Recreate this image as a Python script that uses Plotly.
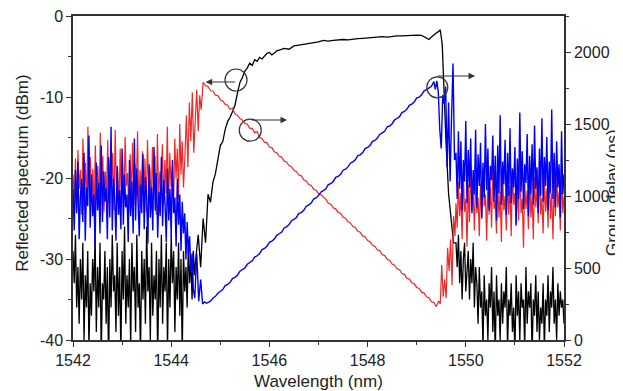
import numpy as np
import plotly.graph_objects as go

# ---------------- data ----------------
# Reflected spectrum (dBm), left axis
black_left = [-29,-33,-27,-36,-31,-38,-30,-35,-28,-40,-32,-36,-29,-41,-33,-37,-30,-34,-27,-39,
              -31,-36,-28,-42,-33,-35,-29,-38,-31,-43,-30,-36,-27,-34,-32,-39,-28,-37,-31,-42,
              -29,-35,-26,-38,-32,-36,-30,-41,-28,-34,-31,-39,-27,-36,-33,-42,-29,-35,-30,-38,
              -26,-34,-31,-40,-28,-37,-32,-35,-29,-43,-30,-36,-27,-38,-31,-34,-28,-41,-30,-36,
              -27,-33,-29,-39,-31,-35,-28,-37,-30,-42,-29,-34,-31,-36,-28,-33,-30,-35,-29,-32]
black_left_range = (1542.0, 1544.475)

black_mid_wl = [1544.5,1544.55,1544.6,1544.65,1544.7,1544.75,1544.8,1544.85,1544.9,1544.95,1545.0,1545.05,
                1545.1,1545.15,1545.2,1545.25,1545.3,1545.35,1545.4,1545.45,1545.5,1545.55,1545.6,1545.65,
                1545.7,1545.75,1545.8,1545.85,1545.9,1545.95,1546.0,1546.05,1546.1,1546.15,1546.2,1546.3,
                1546.4,1546.5,1546.6,1546.7,1546.8,1546.9,1547.0,1547.1,1547.2,1547.3,1547.4,1547.5,
                1547.6,1547.7,1547.8,1547.9,1548.0,1548.1,1548.2,1548.3,1548.4,1548.5,1548.6,1548.7,
                1548.8,1548.9,1549.0,1549.1,1549.15,1549.2,1549.25,1549.3,1549.35,1549.4,1549.45,1549.48,
                1549.52,1549.56,1549.6,1549.65,1549.7,1549.75]
black_mid = [-30,-27,-31,-25,-28,-22,-23,-20.5,-19.5,-17.5,-16,-15.5,
             -14,-13,-12.5,-11.8,-11,-9.5,-8.2,-7.6,-6.8,-6.4,-5.8,-6.1,
             -5.4,-5.6,-5.1,-5.3,-4.9,-4.6,-4.5,-4.8,-4.6,-4.3,-4.2,-4.0,
             -4.1,-3.7,-3.6,-3.5,-3.4,-3.3,-3.2,-3.0,-3.1,-3.0,-2.95,-2.9,
             -2.95,-2.85,-2.8,-2.75,-2.7,-2.7,-2.6,-2.55,-2.6,-2.5,-2.45,-2.45,
             -2.4,-2.4,-2.35,-2.4,-2.6,-2.7,-2.9,-2.6,-2.3,-2.1,-1.9,-1.7,
             -3.5,-10,-16,-22,-25,-28]

black_right = [-28,-31,-27,-33,-29,-35,-30,-28,-34,-31,-29,-35,-30,-33,-28,-36,-31,-33,-38,-31,
               -36,-34,-41,-32,-37,-35,-40,-33,-36,-31,-39,-34,-42,-32,-37,-35,-40,-33,-38,-34,
               -36,-31,-41,-35,-37,-33,-39,-36,-42,-32,-37,-34,-40,-33,-36,-35,-41,-31,-38,-34,
               -36,-33,-42,-35,-37,-32,-39,-34,-40,-36,-38,-33,-41,-35,-37,-32,-39,-34,-36,-31,
               -38,-35,-40,-33,-37,-34,-36,-35,-38]
black_right_range = (1549.8, 1552.0)

# Group delay (ps), right axis - red
red_left = [1150,980,1260,900,1320,1050,1180,870,1400,1010,1230,940,1480,1090,1270,960,1190,880,1350,1030,
            1210,920,1440,1060,1280,890,1170,1010,1390,950,1240,1080,1300,900,1460,1020,1190,870,1330,990,
            1250,930,1410,1070,1160,880,1290,1000,1370,940,1220,1060,1450,910,1180,1030,1310,960,1260,890,
            1390,1050,1200,920,1340,1010,1280,870,1430,980,1170,1090,1360,940,1250,1020,1480,930,1300,1060,
            1210,900,1400,1120,1330,980,1500,1150,1380,1060]
red_left_range = (1542.0, 1544.25)
red_trans_wl = [1544.28,1544.31,1544.34,1544.37,1544.40,1544.43,1544.46,1544.49,1544.52,1544.55,1544.58,1544.61,1544.64]
red_trans = [1280,1560,1200,1650,1380,1720,1300,1560,1740,1450,1700,1600,1770]
red_ramp = [1790,1766,1760,1731,1729,1700,1697,1668,1660,1636,1631,1601,1611,1570,1560,1538,1527,1505,1498,1471,
            1468,1440,1447,1408,1398,1374,1369,1340,1336,1307,1301,1276,1270,1242,1236,1210,1203,1178,1170,1146,
            1140,1113,1104,1080,1074,1047,1040,1016,1011,992,978,950,943,918,911,886,880,853,845,821,
            813,788,782,755,748,723,717,690,682,658,650,625,619,592,586,560,552,527,520,495,
            488,462,456,429,423,397,390,365,358,332,326,300,293,266,260,232]
red_ramp_range = (1544.65, 1549.40)
red_post_wl = [1549.45,1549.48,1549.51,1549.54,1549.57,1549.60,1549.63,1549.66,1549.69,1549.72,1549.75,1549.78]
red_post = [270,250,520,300,420,290,640,480,700,380,860,720]
red_right = [950,780,1100,860,1020,700,1150,890,980,650,1080,820,1200,900,1040,760,1130,880,990,720,
             1090,840,1180,930,1010,690,1120,870,1060,780,1220,910,970,740,1100,850,1030,680,1160,900,
             1000,760,1140,870,1070,720,1190,940,1020,790,1110,830,1250,880,980,640,1090,910,1040,770,
             1170,850,1010,700,1130,920,1060,810,1200,870,990,740,1120,890,1050,780,1180,840,1020,700,
             1100,860,1160,920,1030,760,1210,880,1000]
red_right_range = (1549.8, 1552.0)

# Group delay (ps), right axis - blue
blue_left = [1050,760,1180,880,1240,700,990,1120,820,1300,690,1060,930,1420,780,1150,860,1010,650,1230,
             900,1090,740,1350,820,1170,960,1060,700,1270,850,1480,760,1120,990,690,1210,870,1040,770,
             1330,800,1150,920,1010,680,1250,860,1100,740,1400,830,1190,950,720,1080,880,1290,770,1130,
             990,670,1220,850,1060,760,1340,900,1160,710,1030,860,1270,790,1110,940,680,1190,830,1050,
             720,1250,880,990,650,1120,800,1010,620,960,740,880,560,820,600,720,480,600,350]
blue_left_range = (1542.0, 1544.45)
blue_trough_wl = [1544.48,1544.52,1544.56,1544.60,1544.64,1544.68,1544.72]
blue_trough = [290,600,270,420,250,265,255]
blue_ramp = [262,270,290,303,325,337,350,378,386,400,428,435,450,478,487,500,526,538,550,576,
             585,600,628,636,651,678,686,701,727,738,750,778,786,801,828,838,851,879,885,901,
             929,937,951,979,986,1003,1028,1037,1050,1079,1086,1101,1129,1136,1151,1179,1186,1202,1228,1237,
             1251,1280,1286,1302,1329,1338,1351,1380,1386,1402,1429,1438,1451,1481,1486,1502,1529,1538,1551,1580,
             1587,1602,1630,1638,1652,1682,1687,1703,1730,1739,1752,1762,1795]
blue_ramp_range = (1544.75, 1549.35)
blue_post_wl = [1549.38,1549.41,1549.44,1549.47,1549.50,1549.53,1549.56,1549.59,1549.62,1549.65,1549.68,1549.71,1549.74,1549.77]
blue_post = [1740,1800,1720,1460,1330,1700,1640,1760,1200,1650,1100,1550,1920,1250]
blue_right = [1300,980,1450,1050,1380,900,1250,1100,1520,950,1320,1060,1400,880,1180,1010,1460,920,1290,1070,
              1370,850,1230,990,1500,1040,1330,900,1210,1110,1420,960,1280,830,1350,1020,1560,940,1240,1080,
              1390,870,1300,1000,1470,950,1190,1060,1340,800,1260,980,1580,1030,1310,910,1220,1090,1430,860,
              1280,1010,1360,940,1490,1050,1200,880,1330,1000,1540,960,1270,1070,1410,900,1240,1020,1600,980,
              1300,920,1380,1060,1220,850,1450,1010,1150]
blue_right_range = (1549.8, 1552.0)

x_ticks = [1542, 1544, 1546, 1548, 1550, 1552]
y_left_ticks = [-40, -30, -20, -10, 0]
y_left_labels = ["-40", "-30", "-20", "-10", "0"]
y_right_ticks = [0, 500, 1000, 1500, 2000]


def grid(rng, vals):
    return list(np.linspace(rng[0], rng[1], len(vals)))


black_x = grid(black_left_range, black_left) + black_mid_wl + grid(black_right_range, black_right)
black_y = black_left + black_mid + black_right
red_x = grid(red_left_range, red_left) + red_trans_wl + grid(red_ramp_range, red_ramp) + red_post_wl + grid(red_right_range, red_right)
red_y = red_left + red_trans + red_ramp + red_post + red_right
blue_x = grid(blue_left_range, blue_left) + blue_trough_wl + grid(blue_ramp_range, blue_ramp) + blue_post_wl + grid(blue_right_range, blue_right)
blue_y = blue_left + blue_trough + blue_ramp + blue_post + blue_right

FONT = "Liberation Sans, Arial, sans-serif"
AX = "#333333"

fig = go.Figure()
fig.add_trace(go.Scatter(x=red_x, y=red_y, mode="lines", yaxis="y2",
                         line=dict(color="rgb(238,40,40)", width=1.2), showlegend=False))
fig.add_trace(go.Scatter(x=blue_x, y=blue_y, mode="lines", yaxis="y2",
                         line=dict(color="rgb(0,0,245)", width=1.4), showlegend=False))
fig.add_trace(go.Scatter(x=black_x, y=black_y, mode="lines", yaxis="y",
                         line=dict(color="black", width=1.3), showlegend=False))

axis_common = dict(showgrid=False, zeroline=False, showline=True, linecolor=AX, linewidth=1.5,
                   ticks="outside", ticklen=5, tickwidth=1.2, tickcolor=AX, automargin=False,
                   ticklabeloverflow="allow",
                   tickfont=dict(family=FONT, size=16, color="#222"))

# the page body adds an 8 px offset, so margins are shifted to compensate
fig.update_layout(
    width=623, height=391,
    margin=dict(l=64.5, r=66.5, t=8, b=59, autoexpand=False),
    paper_bgcolor="white", plot_bgcolor="white",
    xaxis=dict(range=[1542, 1552], tickvals=x_ticks, mirror=True,
               minor=dict(dtick=1, ticks="outside", ticklen=3, tickcolor=AX), **axis_common),
    yaxis=dict(range=[-40, 0], tickvals=y_left_ticks, ticktext=y_left_labels,
               minor=dict(dtick=5, ticks="outside", ticklen=3, tickcolor=AX), **axis_common),
    yaxis2=dict(range=[0, 2250], tickvals=y_right_ticks, overlaying="y", side="right",
                minor=dict(dtick=250, ticks="outside", ticklen=3, tickcolor=AX), **axis_common),
)

# axis titles
title_font = dict(family=FONT, size=17, color="#222")
fig.add_annotation(text="Wavelength (nm)", xref="paper", yref="paper", x=0.5, y=-0.127,
                   showarrow=False, font=title_font, xanchor="center", yanchor="middle")
fig.add_annotation(text="Reflected spectrum (dBm)", xref="paper", yref="paper", x=-0.1026, y=0.515,
                   showarrow=False, font=title_font, textangle=-90, xanchor="center", yanchor="middle")
fig.add_annotation(text="Group delay (ps)", xref="paper", yref="paper", x=1.1, y=0.454,
                   showarrow=False, font=title_font, textangle=-90, xanchor="center", yanchor="middle")

# circles marking curves
for cx, cy, r in [(1545.32, -7.9, 11), (1545.61, -14.1, 11), (1549.42, -8.8, 10.5)]:
    fig.add_shape(type="circle", xref="x", yref="y", xsizemode="pixel", ysizemode="pixel",
                  xanchor=cx, yanchor=cy, x0=-r, x1=r, y0=-r, y1=r,
                  line=dict(color="#333", width=1.2))

# arrows pointing to the relevant axis
for hx, hy, ax in [(1544.70, -8.15, 31), (1546.36, -12.84, -37), (1550.19, -7.41, -39)]:
    fig.add_annotation(x=hx, y=hy, xref="x", yref="y", ax=ax, ay=0, text="",
                       showarrow=True, arrowhead=2, arrowsize=1.1, arrowwidth=1.2, arrowcolor="#333")

fig.write_html("out.html")
